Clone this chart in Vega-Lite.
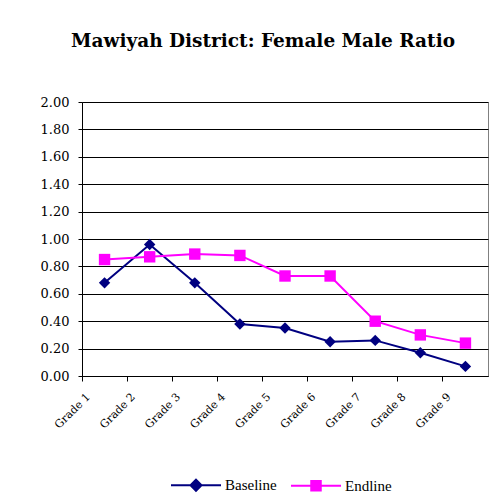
{
  "$schema": "https://vega.github.io/schema/vega-lite/v6.json",
  "width": 406,
  "height": 274,
  "padding": {"left": 40, "top": 31, "right": 5, "bottom": 5},
  "background": "white",
  "title": {
    "text": "Mawiyah District: Female Male Ratio",
    "font": "DejaVu Serif",
    "fontSize": 18.5,
    "fontWeight": "bold",
    "color": "black",
    "anchor": "middle",
    "dx": -22,
    "offset": 46
  },
  "config": {
    "view": {"stroke": "#808080", "strokeWidth": 1},
    "axis": {
      "labelFont": "DejaVu Serif",
      "labelFontSize": 13,
      "labelColor": "black",
      "domainColor": "black",
      "tickColor": "black",
      "title": null
    },
    "legend": {
      "labelFont": "Liberation Serif",
      "labelFontSize": 15,
      "labelColor": "black"
    }
  },
  "data": {
    "values": [
      {"grade": "Grade 1", "series": "Baseline", "ratio": 0.68},
      {"grade": "Grade 2", "series": "Baseline", "ratio": 0.96},
      {"grade": "Grade 3", "series": "Baseline", "ratio": 0.68},
      {"grade": "Grade 4", "series": "Baseline", "ratio": 0.38},
      {"grade": "Grade 5", "series": "Baseline", "ratio": 0.35},
      {"grade": "Grade 6", "series": "Baseline", "ratio": 0.25},
      {"grade": "Grade 7", "series": "Baseline", "ratio": 0.26},
      {"grade": "Grade 8", "series": "Baseline", "ratio": 0.17},
      {"grade": "Grade 9", "series": "Baseline", "ratio": 0.07},
      {"grade": "Grade 1", "series": "Endline", "ratio": 0.85},
      {"grade": "Grade 2", "series": "Endline", "ratio": 0.87},
      {"grade": "Grade 3", "series": "Endline", "ratio": 0.89},
      {"grade": "Grade 4", "series": "Endline", "ratio": 0.88},
      {"grade": "Grade 5", "series": "Endline", "ratio": 0.73},
      {"grade": "Grade 6", "series": "Endline", "ratio": 0.73},
      {"grade": "Grade 7", "series": "Endline", "ratio": 0.40},
      {"grade": "Grade 8", "series": "Endline", "ratio": 0.30},
      {"grade": "Grade 9", "series": "Endline", "ratio": 0.24}
    ]
  },
  "encoding": {
    "x": {
      "field": "grade",
      "type": "nominal",
      "sort": null,
      "scale": {"type": "band", "paddingInner": 0, "paddingOuter": 0},
      "axis": {
        "bandPosition": 0,
        "labelAngle": -45,
        "labelAlign": "right",
        "labelBaseline": "middle",
        "labelOffset": -16,
        "labelPadding": 14,
        "labelFontSize": 11,
        "tickSize": 5,
        "grid": false
      }
    },
    "y": {
      "field": "ratio",
      "type": "quantitative",
      "scale": {"domain": [0, 2], "nice": false},
      "axis": {
        "values": [0, 0.2, 0.4, 0.6, 0.8, 1.0, 1.2, 1.4, 1.6, 1.8, 2.0],
        "format": ".2f",
        "grid": true,
        "gridColor": "black",
        "gridOpacity": 1,
        "tickSize": 4,
        "labelPadding": 9
      }
    },
    "color": {
      "field": "series",
      "type": "nominal",
      "scale": {"domain": ["Baseline", "Endline"], "range": ["#000080", "#FF00FF"]},
      "legend": {
        "title": null,
        "orient": "none",
        "direction": "horizontal",
        "legendX": 88,
        "legendY": 357,
        "symbolSize": 2500,
        "symbolStrokeWidth": 2,
        "labelFont": "Liberation Serif",
        "labelFontSize": 15,
        "labelColor": "black",
        "labelOffset": 3,
        "columnPadding": 10,
        "encode": {
          "symbols": {
            "update": {
              "shape": {"signal": "datum.value === 'Baseline' ? 'M-1,0H1M0,-0.22L0.22,0L0,0.22L-0.22,0Z' : 'M-1,0H1M-0.19,-0.19H0.19V0.19H-0.19Z'"},
              "stroke": {"signal": "datum.value === 'Baseline' ? '#000080' : '#FF00FF'"},
              "fill": {"signal": "datum.value === 'Baseline' ? '#000080' : '#FF00FF'"},
              "strokeWidth": {"value": 2},
              "opacity": {"value": 1}
            }
          }
        }
      }
    }
  },
  "layer": [
    {
      "mark": {"type": "line", "strokeWidth": 2}
    },
    {
      "transform": [{"filter": "datum.series === 'Baseline'"}],
      "mark": {"type": "point", "filled": true, "opacity": 1, "size": 130, "shape": "diamond"}
    },
    {
      "transform": [{"filter": "datum.series === 'Endline'"}],
      "mark": {"type": "point", "filled": true, "opacity": 1, "size": 130, "shape": "square"}
    }
  ]
}
